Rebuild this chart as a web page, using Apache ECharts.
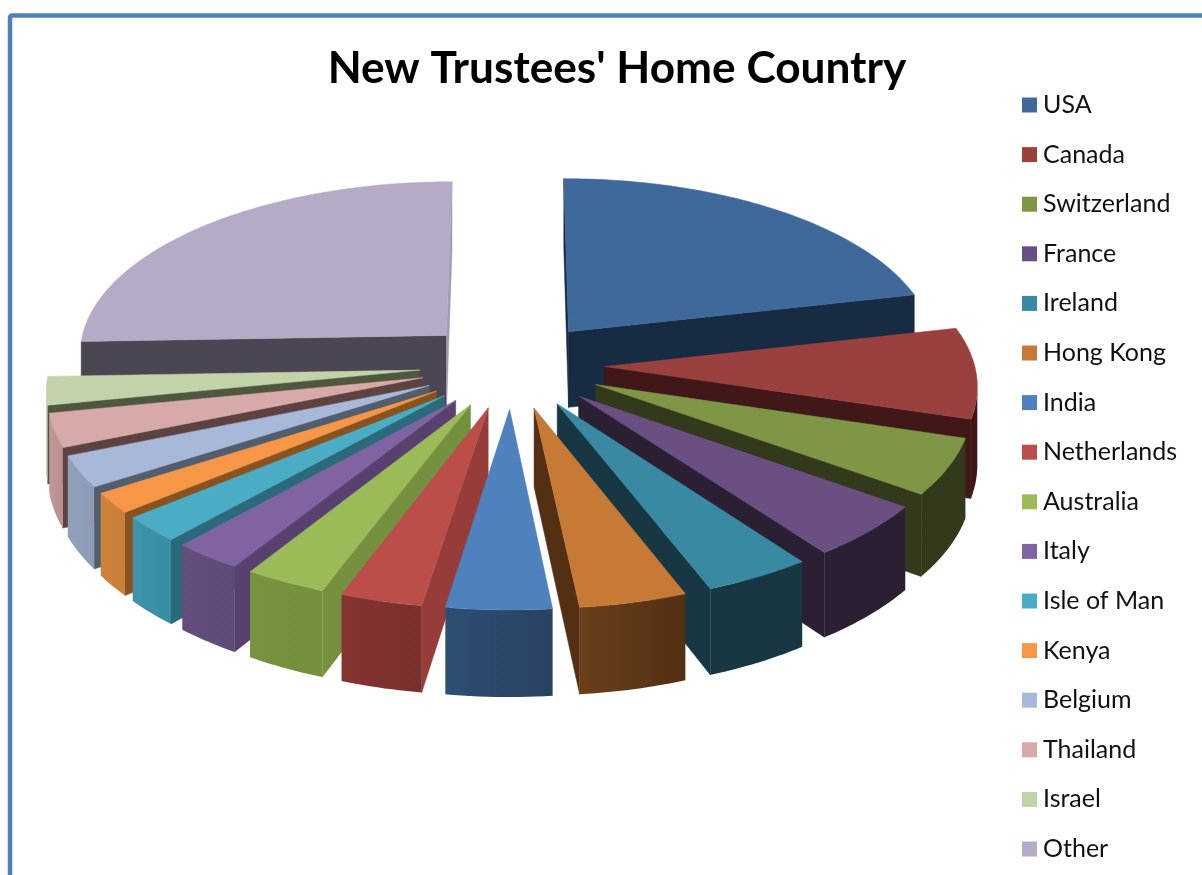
<!DOCTYPE html>
<html>
<head>
<meta charset="utf-8">
<title>New Trustees' Home Country</title>
<script src="https://cdn.jsdelivr.net/npm/echarts@6/dist/echarts.min.js"></script>
<style>
  html, body { margin: 0; padding: 0; background: #fff; }
  #chart { width: 1202px; height: 875px; }
</style>
</head>
<body>
<div id="chart"></div>
<script>
// ---- datos ----
const countries = ['USA', 'Canada', 'Switzerland', 'France', 'Ireland', 'Hong Kong', 'India', 'Netherlands',
  'Australia', 'Italy', 'Isle of Man', 'Kenya', 'Belgium', 'Thailand', 'Israel', 'Other'];
const shares = [21.4, 8.4, 5.2, 5, 4.2, 4.2, 4.1, 3.2, 3.2, 2.7, 2.4, 1.9, 2.9, 3.1, 2.6, 25.6];

// ---- colores ----
const topColors = ['#3f689b', '#9a403e', '#7e9747', '#694f82', '#3a89a3', '#c67a36', '#4f81bd', '#bb4e4b',
  '#9bbb59', '#8064a2', '#4bacc6', '#f79646', '#a7b8d8', '#d7a9a8', '#c3d3a9', '#b6abc6'];
const sideColors = ['#172b43', '#3f1817', '#33391b', '#2a1f33', '#173842', '#532f14', '#284362', '#963d3a',
  '#75903e', '#59416f', '#2c6a7b', '#875421', '#525e6e', '#5d4242', '#4f583f', '#4b4651'];
const arcFrom = ['#172b43', '#3f1817', '#33391b', '#2a1f33', '#173842', '#6b3f1c', '#2f4e74', '#85332f',
  '#77933f', '#644e7c', '#3c93aa', '#cf823a', '#90a0ba', '#c09898', '#a9b892', '#a59ab5'];
const arcTo = ['#172b43', '#3f1817', '#33391b', '#2a1f33', '#173842', '#523014', '#284362', '#7a302e',
  '#75903e', '#5f4a76', '#3a8da3', '#c97f38', '#8c9cb6', '#b89090', '#a9b892', '#a59ab5'];
const otherEndSide = '#a59ab5';

// ---- proyeccion del disco ----
const CX = 512, CY = 365, RX = 370, RY = 173.2, PERSP = 0.093, DEPTH = 77, EXPLODE = 0.25;
function project(x, y, down) {
  const w = 1 + PERSP * y;
  return [CX + RX * x / w, CY - RY * y / w + (down ? DEPTH / w : 0)];
}

const total = shares.reduce((a, b) => a + b, 0);
let acc = 0;
const slices = shares.map(v => {
  const a0 = acc / total * 2 * Math.PI;
  acc += v;
  return { a0, a1: acc / total * 2 * Math.PI, mid: (a0 + acc / total * 2 * Math.PI) / 2 };
});

function sliceShape(i) {
  const s = slices[i];
  const ox = EXPLODE * Math.sin(s.mid), oy = EXPLODE * Math.cos(s.mid);
  const rim = [];
  const steps = Math.max(6, Math.ceil((s.a1 - s.a0) / 0.02));
  for (let k = 0; k <= steps; k++) {
    const a = s.a0 + (s.a1 - s.a0) * k / steps;
    rim.push([ox + Math.sin(a), oy + Math.cos(a)]);
  }
  return { apex: [ox, oy], rim };
}

const wall = (p, q) => [project(p[0], p[1]), project(q[0], q[1]), project(q[0], q[1], true), project(p[0], p[1], true)];
const poly = (points, fill, z2) => ({
  type: 'polygon', z2, shape: { points }, style: { fill, stroke: fill, lineWidth: 0.5 }, silent: true,
});

function renderSlice(i) {
  const { apex, rim } = sliceShape(i);
  const children = [];
  const first = rim[0], last = rim[rim.length - 1];
  // paredes radiales, solo las que miran a la camara
  if (project(first[0], first[1])[0] < project(apex[0], apex[1])[0]) {
    children.push(poly(wall(apex, first), sideColors[i], 1));
  }
  if (project(apex[0], apex[1])[0] < project(last[0], last[1])[0]) {
    children.push(poly(wall(last, apex), countries[i] === 'Other' ? otherEndSide : sideColors[i], 1));
  }
  // pared exterior
  const front = rim.filter((p, k) => {
    const a = k < rim.length - 1 ? p : rim[k - 1], b = k < rim.length - 1 ? rim[k + 1] : p;
    return project(b[0], b[1])[0] < project(a[0], a[1])[0];
  });
  if (front.length > 1) {
    const pts = front.map(p => project(p[0], p[1]))
      .concat(front.slice().reverse().map(p => project(p[0], p[1], true)));
    children.push({
      type: 'polygon', z2: 2, silent: true, shape: { points: pts },
      style: { fill: new echarts.graphic.LinearGradient(0, 0, 1, 0, [
        { offset: 0, color: arcFrom[i] }, { offset: 1, color: arcTo[i] },
      ]) },
    });
  }
  // cara superior
  const topPts = [project(apex[0], apex[1])].concat(rim.map(p => project(p[0], p[1])));
  children.push(poly(topPts, topColors[i], 3));
  return { type: 'group', children };
}

// de atras hacia adelante
const order = countries.map((_, i) => i).sort((a, b) => Math.cos(slices[b].mid) - Math.cos(slices[a].mid));
const rank = {};
order.forEach((i, r) => { rank[i] = r; });

const chart = echarts.init(document.getElementById('chart'), null, { renderer: 'canvas' });
chart.setOption({
  animation: false,
  backgroundColor: '#fff',
  title: {
    text: "New Trustees' Home Country", left: 612, top: 42, textAlign: 'center',
    textStyle: { fontFamily: 'Lato', fontWeight: 'bold', fontSize: 44.2, color: '#000' },
  },
  legend: {
    orient: 'vertical', left: 1022, top: 91, padding: 0, data: countries, icon: 'rect', selectedMode: false,
    itemWidth: 15, itemHeight: 15, itemGap: 21.6,
    textStyle: { fontFamily: 'Lato', fontSize: 25, color: '#111', lineHeight: 28, padding: [0, 0, 0, 1] },
  },
  graphic: [{
    type: 'rect', silent: true, z: 0,
    shape: { x: 10, y: 15.5, width: 1400, height: 1000, r: 2 },
    style: { fill: 'none', stroke: '#4f81bd', lineWidth: 4.5 },
  }],
  series: countries.map((name, i) => ({
    type: 'custom', name, coordinateSystem: 'none', z: 2 + rank[i], silent: true,
    itemStyle: { color: topColors[i] },
    data: [shares[i]],
    renderItem: () => renderSlice(i),
  })),
});
</script>
</body>
</html>
